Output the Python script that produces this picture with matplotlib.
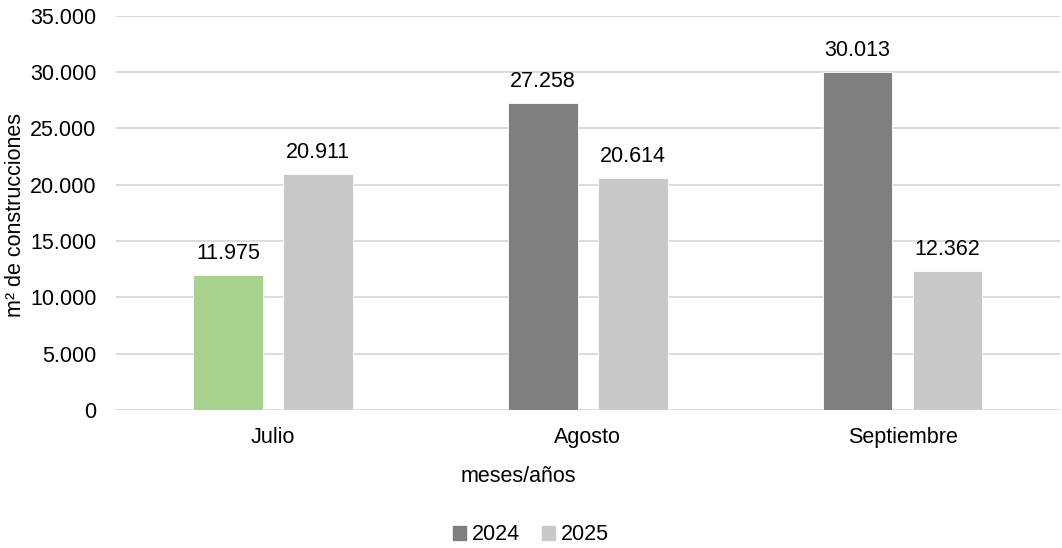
import matplotlib.pyplot as plt
import numpy as np
from matplotlib.patches import Patch
from matplotlib.ticker import FuncFormatter

months = ["Julio", "Agosto", "Septiembre"]
vals_2024 = [11975, 27258, 30013]
vals_2025 = [20911, 20614, 12362]
colors_2024 = ["#a9d18e", "#7f7f7f", "#7f7f7f"]
color_2025 = "#c9c9c9"
yticks = [0, 5000, 10000, 15000, 20000, 25000, 30000, 35000]


def fmt(v, pos=None):
    return f"{int(v):,}".replace(",", ".")


plt.rcParams["font.family"] = ["Liberation Sans", "DejaVu Sans"]
fs = 15.5

fig = plt.figure(figsize=(10.62, 5.48), dpi=100)
ax = fig.add_axes([0.109, 0.252, 0.889, 0.719])

x = np.arange(len(months))
w = 0.222
off = 0.143
b1 = ax.bar(x - off, vals_2024, w, color=colors_2024, edgecolor="white", linewidth=0.6, zorder=3)
b2 = ax.bar(x + off, vals_2025, w, color=color_2025, edgecolor="white", linewidth=0.6, zorder=3)

for bars, vals in ((b1, vals_2024), (b2, vals_2025)):
    for r, v in zip(bars, vals):
        ax.annotate(fmt(v), (r.get_x() + r.get_width() / 2, v),
                    xytext=(0, 8), textcoords="offset points",
                    ha="center", va="bottom", fontsize=fs, color="#000000")

ax.set_xlim(-0.5, 2.5)
ax.set_ylim(0, 35000)
ax.set_yticks(yticks)
ax.yaxis.set_major_formatter(FuncFormatter(fmt))
ax.set_xticks(x)
ax.set_xticklabels(months)
ax.grid(axis="y", color="#d9d9d9", linewidth=1.3, zorder=0)
ax.set_axisbelow(True)
for s in ax.spines.values():
    s.set_visible(False)
ax.tick_params(length=0, labelsize=fs, colors="#000000")
ax.tick_params(axis="x", pad=12)
ax.tick_params(axis="y", pad=14)

fig.text(0.015, 0.608, "m² de construcciones", rotation=90, ha="center", va="center", fontsize=fs)
fig.text(0.488, 0.131, "meses/años", ha="center", va="center", fontsize=fs)

handles = [Patch(color="#7f7f7f", label="2024"), Patch(color=color_2025, label="2025")]
fig.legend(handles=handles, loc="center", bbox_to_anchor=(0.5, 0.024), ncol=2,
           frameon=False, fontsize=fs, handlelength=0.6, handleheight=0.6,
           handletextpad=0.3, columnspacing=1.0)

fig.savefig("out.png", dpi=100)
